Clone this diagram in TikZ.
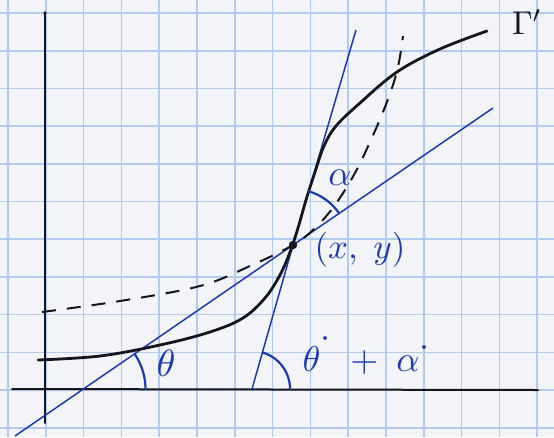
\documentclass[tikz,border=0pt]{standalone}
\usetikzlibrary{calc}
\definecolor{paper}{RGB}{242,244,247}
\definecolor{gridblue}{RGB}{178,202,240}
\definecolor{ink}{RGB}{28,58,178}
\definecolor{pencil}{RGB}{22,22,28}
\tikzset{
  gridline/.style={gridblue, line width=1.6pt},
  axisline/.style={pencil, line width=2pt, line cap=round},
  curveline/.style={pencil, line width=2.8pt, line cap=round},
  dashline/.style={pencil, line width=2pt, dash pattern=on 14pt off 11pt},
  tangentline/.style={ink, line width=1.5pt},
  anglearc/.style={ink, line width=2.2pt, line cap=round},
  bluelabel/.style={ink, inner sep=0pt},
}
\begin{document}
\begin{tikzpicture}[x=1pt,y=-1pt]
\fill[paper] (0,0) rectangle (554,437);
\useasboundingbox (0,0) rectangle (554,437);
% graph paper
\foreach \k in {0,...,14} \draw[gridline] ({8+37.8*\k},0) -- ({8+37.8*\k},437);
\foreach \k in {0,...,11} \draw[gridline] (0,{13+37.7*\k}) -- (554,{13+37.7*\k});
% axes
\coordinate (ytop) at (45,13);
\coordinate (ybot) at (45,423);
\coordinate (xl) at (12,389);
\coordinate (xr) at (538,390);
\draw[axisline] (ybot) -- (ytop);
\fill[pencil] (ytop) circle (1.8);
\draw[axisline] (xl) -- (xr);
% point
\coordinate (P) at (293,245);
% tangent lines
\coordinate (s1) at (15,436);
\coordinate (s2) at (493,108);
\coordinate (t1) at (252,389);
\coordinate (t2) at (356,30);
\draw[tangentline] (s1) -- (P) -- (s2);
\draw[tangentline] (t1) -- (P) -- (t2);
% dashed curve
\draw[dashline] plot[smooth, tension=0.6] coordinates {
 (42,312) (120,301) (200,286) (250,266) (293,245)
 (315,228) (335,205) (355,173) (370,142) (383,112) (393,85) (399,62) (403,36)};
% curve Gamma'
\draw[curveline] plot[smooth, tension=0.6] coordinates {
 (38,360) (100,356) (160,345) (210,332) (243,318) (265,298) (280,275)
 (290,252) (298,228) (306,200) (315,172) (324,146) (336,126)
 (360,103) (397,72) (440,49) (487,31)};
\fill[pencil] (P) circle (4.2);
% angle arcs
\coordinate (O1) at (83.5,389);
\draw[anglearc] ($(O1)+(62,0)$) arc[start angle=0, end angle=-34.4, radius=62];
\draw[anglearc] ($(t1)+(38,0)$) arc[start angle=0, end angle=-73.7, radius=38];
\draw[anglearc] ($(P)+(46.2,-31.6)$) arc[start angle=-34.4, end angle=-73.7, radius=56];
% labels
\node[bluelabel, scale=3.8] (lth) at (166,363) {$\theta$};
\node[bluelabel, scale=3.6] (lal) at (340,178) {$\alpha$};
\node[bluelabel, scale=3.5] (lxy) at (360,250) {$(x,\;y)$};
\node[bluelabel, scale=3.6, anchor=west] (lsum) at (302,353)
  {$\theta^{\raisebox{3pt}{$\cdot$}}\;+\;\alpha^{\raisebox{0.5pt}{$\cdot$}}$};
\node[pencil, inner sep=0pt, scale=3.3] (lgam) at (527,22) {$\Gamma'$};
\end{tikzpicture}
\end{document}
